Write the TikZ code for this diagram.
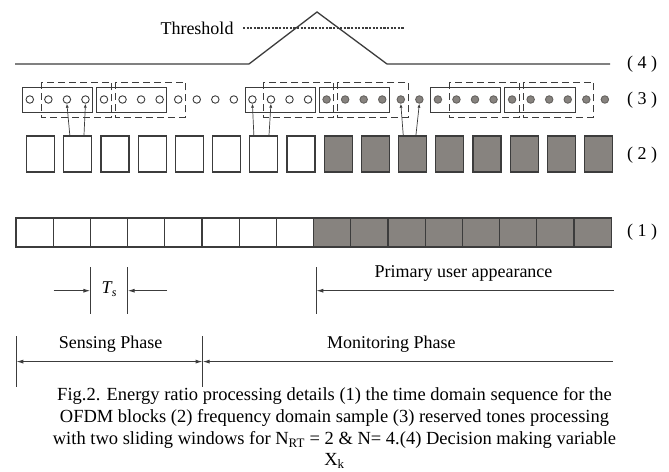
\documentclass[tikz,border=0pt]{standalone}
\usepackage{fontspec}
\setmainfont{Liberation Serif}
\usetikzlibrary{arrows.meta,calc}
\definecolor{blk}{RGB}{60,60,60}
\definecolor{pu}{RGB}{135,131,127}
\begin{document}
\begin{tikzpicture}[x=1pt,y=-1pt,
  cellw/.style={draw=blk,line width=1.2pt,minimum width=37.2pt,minimum height=29pt,inner sep=0pt,outer sep=0pt,anchor=north west,fill=white},
  cellg/.style={cellw,fill=pu},
  sqw/.style={draw=blk,line width=1.2pt,minimum width=28pt,minimum height=36pt,inner sep=0pt,outer sep=0pt,anchor=north west,fill=white},
  sqg/.style={sqw,fill=pu},
  tonew/.style={circle,draw=blk,line width=0.9pt,minimum size=7.5pt,inner sep=0pt,fill=white},
  toneg/.style={tonew,fill=pu,draw=pu!75!black},
  win/.style={draw=blk,line width=1pt},
  dwin/.style={draw=blk,line width=1pt,dash pattern=on 7pt off 4pt},
  conn/.style={draw=blk,line width=0.7pt,-{Latex[length=4pt,width=3pt]}},
  lbl/.style={font=\fontsize{18}{20}\selectfont,inner sep=0pt},
  captext/.style={font=\fontsize{18.5}{20}\selectfont,inner sep=0pt},
  dim/.style={draw=blk,line width=1pt},
  tip/.style={-{Latex[length=7pt,width=4pt]}},
]
\path[fill=white] (0,0) rectangle (669,471);
\useasboundingbox (0,0) rectangle (669,471);

% row (1): time domain OFDM blocks
\foreach \i in {0,...,7} \node[cellw] (a\i) at ({16+37.2*\i},218) {};
\foreach \i in {8,...,15} \node[cellg] (a\i) at ({16+37.2*\i},218) {};

% row (2): frequency domain samples
\foreach \i in {0,...,7} \node[sqw] (b\i) at ({26.6+37.2*\i},136) {};
\foreach \i in {8,...,15} \node[sqg] (b\i) at ({26.6+37.2*\i},136) {};

% row (3): reserved tones
\foreach \i in {0,...,15} \node[tonew] (c\i) at ({29.8+18.55*\i},99.5) {};
\foreach \i in {16,...,31} \node[toneg] (c\i) at ({29.8+18.55*\i},99.5) {};

\foreach \i in {0,4,12,16,22,26}{
  \pgfmathtruncatemacro{\j}{\i+3}
  \draw[win] ($(c\i)+(-7.3,-12.5)$) rectangle ($(c\j)+(7.3,12.5)$);
}
\foreach \i in {1,5,13,17,23,27}{
  \pgfmathtruncatemacro{\j}{\i+3}
  \draw[dwin] ($(c\i)+(-7.3,-17.5)$) rectangle ($(c\j)+(7.3,17.5)$);
}

% connectors from samples to tones
\draw[conn] ($(c2.south |- b1.north)+(3,0)$) -- (c2.south);
\draw[conn] ($(c3.south |- b1.north)+(-1.5,0)$) -- (c3.south);
\draw[conn] ($(c12.south |- b6.north)+(1.5,0)$) -- (c12.south);
\draw[conn] ($(c13.south |- b6.north)+(-2,0)$) -- (c13.south);
\draw[conn] ($(c20.south |- b10.north)+(2.5,0)$) -- (c20.south);
\draw[conn] ($(c21.south |- b10.north)+(-3.5,0)$) -- (c21.south);

% row (4): decision variable
\coordinate (p0) at (15,64);
\coordinate (p1) at (249,64);
\coordinate (pk) at (317,12);
\coordinate (p2) at (387,64);
\coordinate (p3) at (610,64);
\draw[blk,line width=1.3pt] (p0) -- (p1) -- (pk) -- (p2) -- (p3);
\node[lbl] (thr) at (197,28) {Threshold};
\coordinate (t1) at (243,28);
\coordinate (t2) at (404,28);
\draw[blk,line width=1.3pt,dash pattern=on 2.2pt off 1.4pt] (t1) -- (t2);

% row labels
\node[lbl] (l4) at (642,64) {( 4 )};
\node[lbl] (l3) at (642,100) {( 3 )};
\node[lbl] (l2) at (642,155) {( 2 )};
\node[lbl] (l1) at (642,232) {( 1 )};

% T_s marker
\coordinate (ts1t) at (90.4,267);
\coordinate (ts1b) at (90.4,314);
\coordinate (ts2t) at (127.6,267);
\coordinate (ts2b) at (127.6,314);
\draw[dim] (ts1t) -- (ts1b);
\draw[dim] (ts2t) -- (ts2b);
\coordinate (tsA) at (53.6,290.7);
\coordinate (tsB) at (167,290.7);
\draw[dim,tip] (tsA) -- (ts1t |- tsA);
\draw[dim,tip] (tsB) -- (ts2t |- tsB);
\node[lbl] (ts) at (109,289) {\itshape T\kern0.3pt\raisebox{-3pt}{\fontsize{12}{12}\selectfont s}};

% primary user appearance
\coordinate (pu1) at (316.3,267);
\coordinate (pu2) at (316.3,314);
\draw[dim] (pu1) -- (pu2);
\coordinate (puE) at (613.7,290.7);
\draw[dim,tip] (puE) -- (pu1 |- puE);
\node[lbl] (put) at (463.5,273) {Primary user appearance};

% sensing / monitoring phases
\coordinate (s1t) at (16.3,336);
\coordinate (s1b) at (16.3,387);
\coordinate (s2t) at (202.6,336);
\coordinate (s2b) at (202.6,387);
\draw[dim] (s1t) -- (s1b);
\draw[dim] (s2t) -- (s2b);
\coordinate (mE) at (612.9,361.6);
\draw[dim,{Latex[length=7pt,width=4pt]}-{Latex[length=7pt,width=4pt]}] (s1t |- mE) -- (s2t |- mE);
\draw[dim,tip] (mE) -- (s2t |- mE);
\node[lbl] (sp) at (110.7,344) {Sensing Phase};
\node[lbl] (mp) at (391.4,344) {Monitoring Phase};

% caption
\node[captext] (cap1) at (334.5,396) {Fig.2. Energy ratio processing details (1) the time domain sequence for the};
\node[captext] (cap2) at (334.5,418) {OFDM blocks (2) frequency domain sample (3) reserved tones processing};
\node[captext] (cap3) at (334.5,440) {with two sliding windows for N\textsubscript{RT} = 2 \& N= 4.(4) Decision making variable};
\node[captext] (cap4) at (334.5,461) {X\textsubscript{k}};
\end{tikzpicture}
\end{document}
